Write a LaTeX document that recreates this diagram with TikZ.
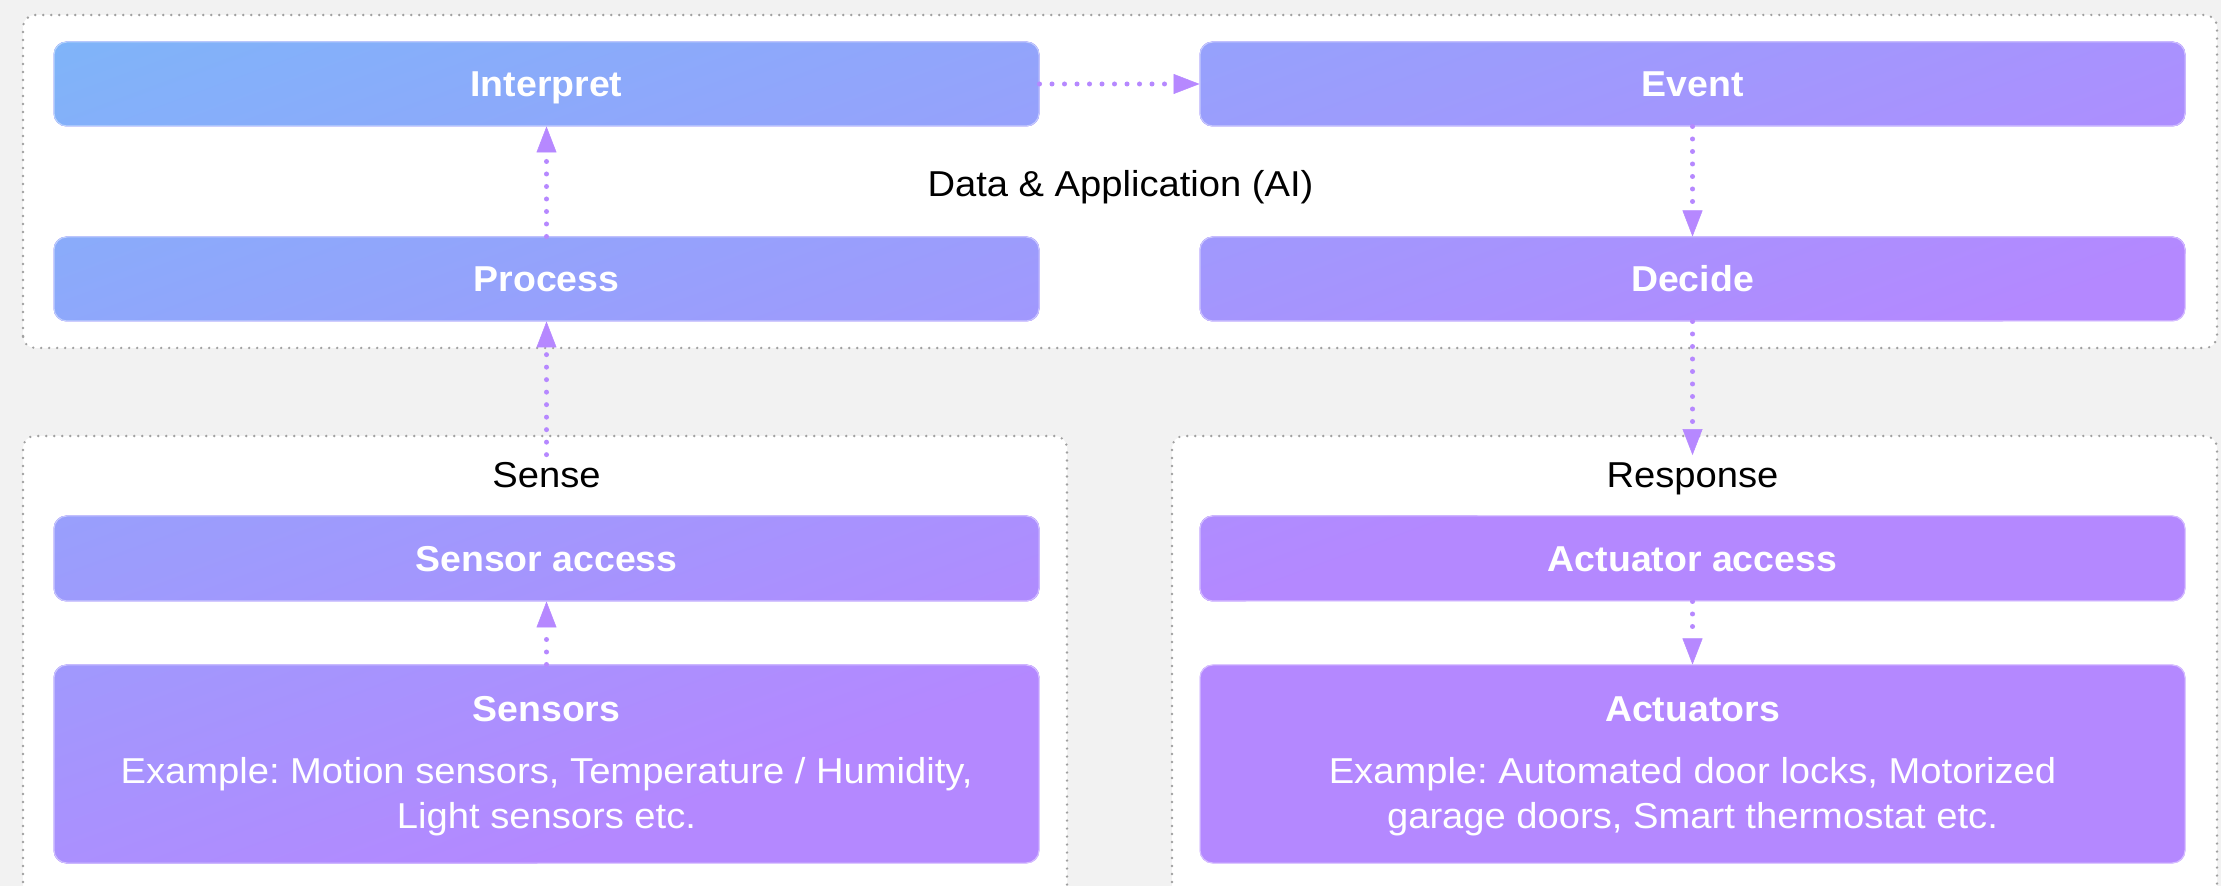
\documentclass[tikz,border=0pt]{standalone}
\usepackage{fontspec}
\setmainfont{Liberation Sans}[FakeStretch=1.06, BoldFeatures={FakeStretch=1.04}]
\usetikzlibrary{arrows.meta}
\definecolor{bgc}{RGB}{242,242,242}
\definecolor{gA}{RGB}{127,180,249}
\definecolor{gB}{RGB}{180,136,255}
\definecolor{arr}{RGB}{182,136,255}
\definecolor{pnl}{RGB}{160,160,160}
\pgfdeclarelayer{bg}
\pgfdeclarelayer{mid}
\pgfsetlayers{bg,mid,main}
\frenchspacing
\begin{document}
\begin{tikzpicture}[x=1pt,y=1pt,
  box/.style={rectangle, minimum width=985pt, inner sep=0pt, text=white,
    font=\fontsize{36}{45}\selectfont\bfseries, draw=white, draw opacity=0.45,
    line width=1pt, rounded corners=13pt, text height=25.8pt, text depth=0pt},
  lbl/.style={anchor=base, inner sep=8pt, text=black, font=\fontsize{36}{45}\selectfont},
  panel/.style={fill=white, draw=pnl, line width=2.6pt, dash pattern=on 0pt off 8pt,
    line cap=round, rounded corners=12pt},
  flow/.style={draw=arr, line width=5pt, dash pattern=on 0pt off 12.5pt, line cap=round,
    -{Triangle[length=26pt,width=20pt,line width=0.5pt]}},
]
\useasboundingbox (0,0) rectangle (2221,886);
\clip (0,0) rectangle (2221,886);

% boxes
\node[box, minimum height=84pt] (interpret) at (546.5,802) {Interpret};
\node[box, minimum height=84pt] (event) at (1692.5,802) {Event};
\node[box, minimum height=84pt] (process) at (546.5,607) {Process};
\node[box, minimum height=84pt] (decide) at (1692.5,607) {Decide};
\node[box, minimum height=85pt] (sacc) at (546.5,327.5) {Sensor access};
\node[box, minimum height=85pt] (aacc) at (1692.5,327.5) {Actuator access};
\node[box, minimum height=198pt] (sensors) at (546.5,122) {};
\node[box, minimum height=198pt] (actuators) at (1692.5,122) {};

% texts inside the big boxes
\node[lbl, text=white, font=\fontsize{36}{45}\selectfont\bfseries] (sensorsT) at (546.5,164) {Sensors};
\node[lbl, text=white, align=center] (sensorsEx) at (546.5,58)
  {Example: Motion sensors, Temperature / Humidity,\\Light sensors etc.};
\node[lbl, text=white, font=\fontsize{36}{45}\selectfont\bfseries] (actuatorsT) at (1692.5,164) {Actuators};
\node[lbl, text=white, align=center] (actuatorsEx) at (1692.5,58)
  {Example: Automated door locks, Motorized\\garage doors, Smart thermostat etc.};

% labels
\node[lbl] (data) at (1120.5,689) {Data \& Application (AI)};
\node[lbl] (sense) at (546.5,398) {Sense};
\node[lbl] (response) at (1692.5,398) {Response};

% connectors
\draw[flow] (process.north) -- (interpret.south);
\draw[flow] (interpret.east) -- (event.west);
\draw[flow] (event.south) -- (decide.north);
\draw[flow] (decide.south) -- (response.north);
\draw[flow] (sense.north) -- (process.south);
\draw[flow] (sensors.north) -- (sacc.south);
\draw[flow] (aacc.south) -- (actuators.north);

\begin{pgfonlayer}{bg}
\fill[bgc] (0,0) rectangle (2221,886);
\draw[panel] (23,538) rectangle (2217,871);
\draw[panel] (23,-40) rectangle (1067,450);
\draw[panel] (1172,-40) rectangle (2217,450);
\end{pgfonlayer}

\begin{pgfonlayer}{mid}
\begin{scope}
\clip[rounded corners=13pt]
  (interpret.south west) rectangle (interpret.north east)
  (event.south west) rectangle (event.north east)
  (process.south west) rectangle (process.north east)
  (decide.south west) rectangle (decide.north east)
  (sacc.south west) rectangle (sacc.north east)
  (aacc.south west) rectangle (aacc.north east)
  (sensors.south west) rectangle (sensors.north east)
  (actuators.south west) rectangle (actuators.north east);
\fill[gB] (0,0) rectangle (2221,886);
\shade[transform canvas={shift={(54,844)},rotate=-69.7}, left color=gA, right color=gB]
  (0,-3000) rectangle (938,3000);
\end{scope}
\end{pgfonlayer}
\end{tikzpicture}
\end{document}
